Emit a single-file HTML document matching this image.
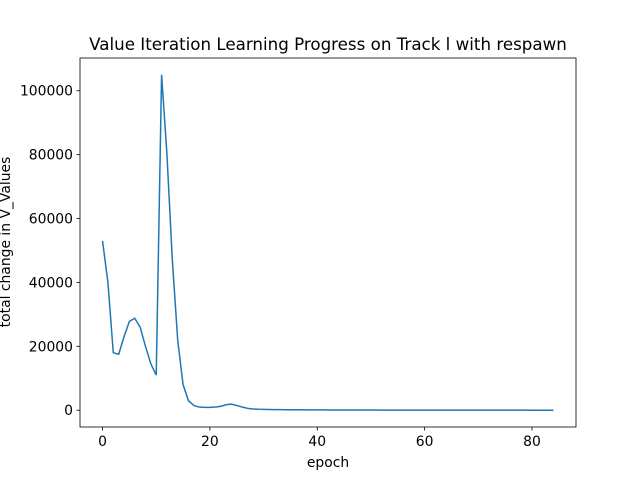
<!DOCTYPE html>
<html><head><meta charset="utf-8"><style>
body{margin:0;background:#fff}
svg text{font-family:"DejaVu Sans","Liberation Sans",sans-serif;fill:#000}
</style></head><body>
<svg id="chart" width="640" height="480" xmlns="http://www.w3.org/2000/svg">
<rect width="640" height="480" fill="#fff"/>
<text x="328" y="50" font-size="16.7" text-anchor="middle">Value Iteration Learning Progress on Track l with respawn</text>
<g id="plot"></g>
<rect x="80" y="58" width="496" height="369" fill="none" stroke="#000" stroke-width="0.8"/>
<text x="328" y="467" font-size="13.9" text-anchor="middle">epoch</text>
<text transform="translate(10,242) rotate(-90)" font-size="13.9" text-anchor="middle">total change in V_Values</text>
</svg>
<script>
const values=[53000,40000,18000,17500,23000,27800,28800,26000,20000,14500,11000,105000,80000,47000,22000,8000,3000,1500,1000,900,900,1000,1200,1700,1900,1500,1000,600,400,300,250,220,200,180,160,150,140,130,120,110,100,95,90,85,80,75,70,65,60,58,55,52,50,48,46,44,42,40,38,36,34,32,30,29,28,27,26,25,24,23,22,21,20,19,18,17,16,15,14,13,12,11,10,9,8];
const xTicks=[0,20,40,60,80];
const yTicks=[0,20000,40000,60000,80000,100000];
const X0=80,W=496,Y0=58,H=369;
const xmin=-4.2,xmax=88.2,ymin=-5250,ymax=110250;
const sx=v=>X0+(v-xmin)/(xmax-xmin)*W;
const sy=v=>Y0+H-(v-ymin)/(ymax-ymin)*H;
const g=document.getElementById('plot');
const NS='http://www.w3.org/2000/svg';
function mk(t,a){const e=document.createElementNS(NS,t);for(const k in a)e.setAttribute(k,a[k]);g.appendChild(e);return e;}
xTicks.forEach(t=>{
 const l=mk('line',{x1:sx(t),x2:sx(t),y1:427,y2:430.5,stroke:'#000','stroke-width':0.8});
 
 
 const tx=mk('text',{x:sx(t),y:446,'font-size':13.9,'text-anchor':'middle'});tx.textContent=t;
 
 
});
yTicks.forEach(t=>{
 const l=mk('line',{x1:76.5,x2:80,y1:sy(t),y2:sy(t),stroke:'#000','stroke-width':0.8});
 
 
 const tx=mk('text',{x:73,y:sy(t)+5,'font-size':13.9,'text-anchor':'end'});tx.textContent=t;
 
 
});
const p=mk('polyline',{points:values.map((v,i)=>sx(i)+','+sy(v)).join(' '),fill:'none',stroke:'#1f77b4','stroke-width':1.5});


</script>
</body></html>
